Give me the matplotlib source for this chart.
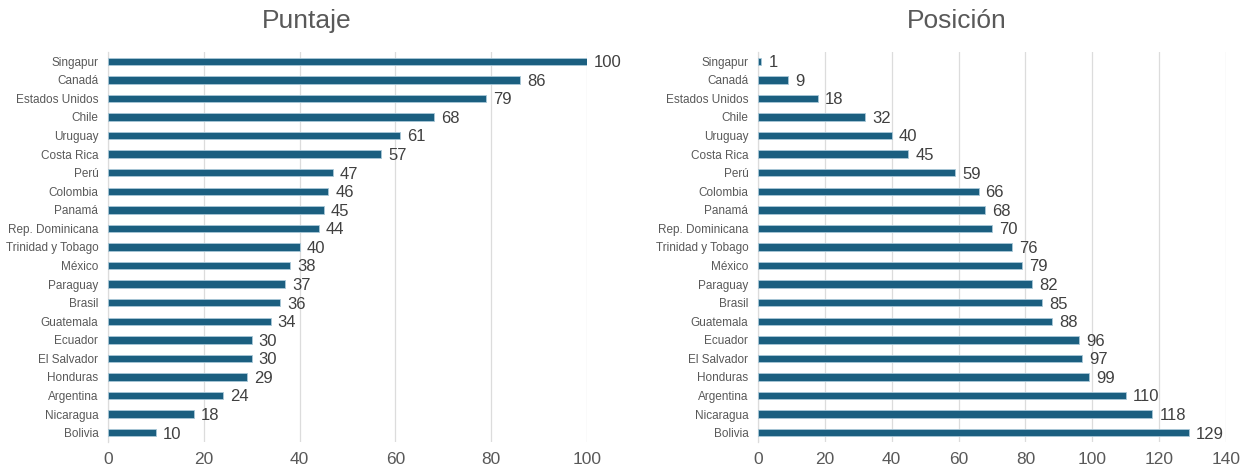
import matplotlib
matplotlib.use("Agg")
import matplotlib.pyplot as plt

plt.rcParams['font.family'] = ['Liberation Sans', 'DejaVu Sans']

paises = ["Singapur", "Canadá", "Estados Unidos", "Chile", "Uruguay", "Costa Rica",
          "Perú", "Colombia", "Panamá", "Rep. Dominicana", "Trinidad y Tobago",
          "México", "Paraguay", "Brasil", "Guatemala", "Ecuador", "El Salvador",
          "Honduras", "Argentina", "Nicaragua", "Bolivia"]
puntaje = [100, 86, 79, 68, 61, 57, 47, 46, 45, 44, 40, 38, 37, 36, 34, 30, 30, 29, 24, 18, 10]
posicion = [1, 9, 18, 32, 40, 45, 59, 66, 68, 70, 76, 79, 82, 85, 88, 96, 97, 99, 110, 118, 129]

puntaje_ticks = [0, 20, 40, 60, 80, 100]
posicion_ticks = [0, 20, 40, 60, 80, 100, 120, 140]

BAR = "#1b5f80"
EDGE = "#a9c8d8"
TXT = "#404040"
GRID = "#dcdcdc"

fig = plt.figure(figsize=(12.58, 4.72), dpi=100)
ax1 = fig.add_axes([108/1258, 1 - 442/472, (587 - 108)/1258, 390/472])
ax2 = fig.add_axes([758/1258, 1 - 442/472, (1226 - 758)/1258, 390/472])


def panel(ax, values, ticks, xmax):
    y = list(range(len(paises)))
    ax.barh(y, values, height=0.4, color=BAR, edgecolor=EDGE, linewidth=0.6, zorder=3)
    for yi, v in zip(y, values):
        ax.annotate(str(v), (v, yi), xytext=(5, -1), textcoords="offset points",
                    ha="left", va="center", fontsize=12, color=TXT, zorder=4,
                    annotation_clip=False)
    ax.set_yticks(y)
    ax.set_yticklabels(paises, fontsize=8.5, color="#595959")
    ax.set_ylim(len(paises) - 0.5, -0.5)
    ax.set_xlim(0, xmax)
    ax.set_xticks(ticks)
    ax.set_xticklabels([str(t) for t in ticks], fontsize=12.5, color="#595959")
    ax.tick_params(axis="both", length=0)
    ax.tick_params(axis="x", pad=7)
    ax.tick_params(axis="y", pad=7)
    ax.grid(axis="x", color=GRID, linewidth=0.9, zorder=0)
    for s in ("top", "right", "bottom"):
        ax.spines[s].set_visible(False)
    ax.spines["left"].set_color(GRID)
    ax.spines["left"].set_linewidth(0.9)


panel(ax1, puntaje, puntaje_ticks, 100)
panel(ax2, posicion, posicion_ticks, 140)

fig.text(307/1258, 1 - 21/472, "Puntaje", ha="center", va="center", fontsize=19, color="#595959")
fig.text(957/1258, 1 - 21/472, "Posición", ha="center", va="center", fontsize=19, color="#595959")

fig.savefig("out.png", dpi=100)
